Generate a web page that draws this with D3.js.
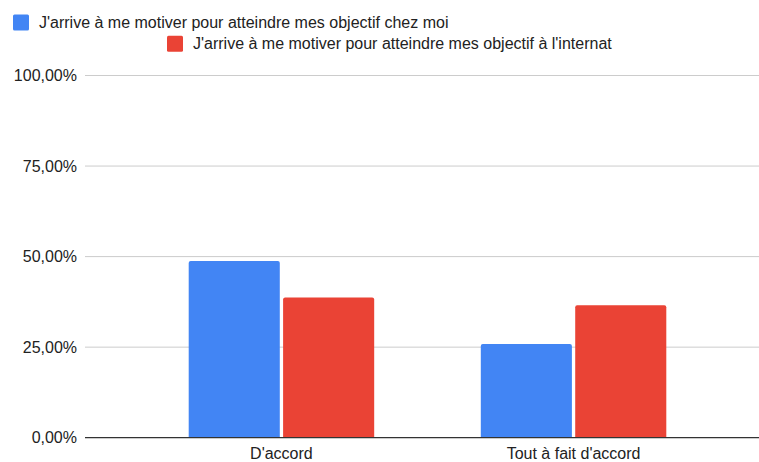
<!DOCTYPE html>
<html>
<head>
<meta charset="utf-8">
<script src="https://cdn.jsdelivr.net/npm/d3@7"></script>
<style>
  body { margin: 0; background: #fff; }
  svg { display: block; font-family: "Liberation Sans", Arial, sans-serif; }
</style>
</head>
<body>
<svg id="chart" width="759" height="462"></svg>
<script>
var categories = ["D'accord", "Tout à fait d'accord"];
var seriesNames = [
  "J'arrive à me motiver pour atteindre mes objectif chez moi",
  "J'arrive à me motiver pour atteindre mes objectif à l'internat"
];
var chezMoi = [0.488, 0.259];
var internat = [0.387, 0.366];
var yTicks = [0, 0.25, 0.5, 0.75, 1];

var colors = ["#4285F4", "#EA4335"];
var margin = { top: 75.5, left: 85, bottom: 437.7 };
var W = 759;

var svg = d3.select("#chart");

var x = d3.scaleBand()
  .domain(categories)
  .range([margin.left, 770])
  .paddingInner(0.365)
  .paddingOuter(0.355);

var xs = d3.scaleBand()
  .domain(seriesNames)
  .range([0, x.bandwidth()])
  .paddingInner(0.035);

var y = d3.scaleLinear()
  .domain([0, 1])
  .range([margin.bottom, margin.top]);

var fmt = function(d) { return d3.format(".2f")(d * 100).replace(".", ",") + "%"; };

// gridlines
svg.append("g")
  .selectAll("line")
  .data(yTicks.filter(d => d > 0))
  .enter()
  .append("line")
    .attr("x1", margin.left)
    .attr("x2", W)
    .attr("y1", d => y(d))
    .attr("y2", d => y(d))
    .attr("stroke", "#cccccc")
    .attr("stroke-width", 1);

// y labels
svg.append("g")
  .selectAll("text")
  .data(yTicks)
  .enter()
  .append("text")
    .attr("x", 77)
    .attr("y", d => y(d))
    .attr("dy", "0.35em")
    .attr("text-anchor", "end")
    .attr("fill", "#222")
    .style("font-size", "16px")
    .text(fmt);

// bars
var rows = categories.map(function(c, i) {
  return { cat: c, vals: [chezMoi[i], internat[i]] };
});

function topRounded(x0, y0, w, h, r) {
  return "M" + x0 + "," + (y0 + h) +
    "V" + (y0 + r) +
    "Q" + x0 + "," + y0 + " " + (x0 + r) + "," + y0 +
    "H" + (x0 + w - r) +
    "Q" + (x0 + w) + "," + y0 + " " + (x0 + w) + "," + (y0 + r) +
    "V" + (y0 + h) + "Z";
}

svg.append("g")
  .selectAll("g")
  .data(rows)
  .enter()
  .append("g")
    .attr("transform", d => "translate(" + x(d.cat) + ",0)")
  .selectAll("path")
  .data(d => d.vals.map((v, j) => ({ v: v, s: seriesNames[j], j: j })))
  .enter()
  .append("path")
    .attr("d", d => topRounded(xs(d.s), y(d.v), xs.bandwidth(), y(0) - y(d.v), 2))
    .attr("fill", d => colors[d.j]);

// baseline
svg.append("line")
  .attr("x1", margin.left)
  .attr("x2", W)
  .attr("y1", y(0))
  .attr("y2", y(0))
  .attr("stroke", "#333")
  .attr("stroke-width", 1.3);

// x labels
svg.append("g")
  .selectAll("text")
  .data(categories)
  .enter()
  .append("text")
    .attr("x", d => x(d) + x.bandwidth() / 2)
    .attr("y", 453)
    .attr("dy", "0.35em")
    .attr("text-anchor", "middle")
    .attr("fill", "#222")
    .style("font-size", "16px")
    .text(d => d);

// legend, wrapped on two rows like the original
var legendPos = [{ x: 13, y: 22.5 }, { x: 167, y: 43.7 }];
var leg = svg.append("g")
  .selectAll("g")
  .data(seriesNames)
  .enter()
  .append("g")
    .attr("transform", (d, i) => "translate(" + legendPos[i].x + "," + legendPos[i].y + ")");

leg.append("rect")
  .attr("x", 0)
  .attr("y", -8)
  .attr("width", 16)
  .attr("height", 16)
  .attr("rx", 1.5)
  .attr("fill", (d, i) => colors[i]);

leg.append("text")
  .attr("x", 26)
  .attr("y", 0)
  .attr("dy", "0.35em")
  .attr("fill", "#222")
  .style("font-size", "16px")
  .text(d => d);
</script>
</body>
</html>
